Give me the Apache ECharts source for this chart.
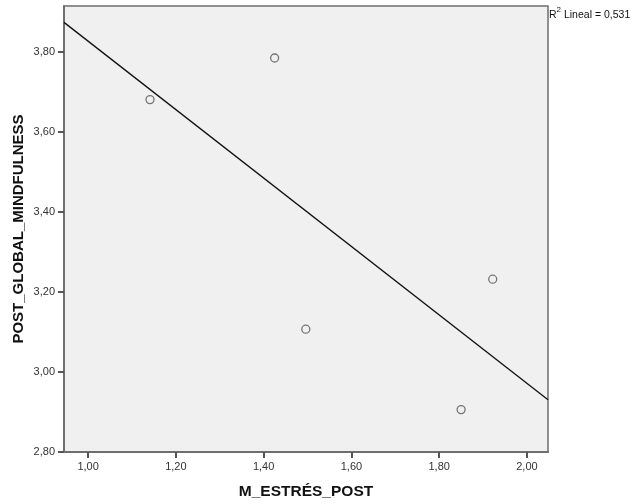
<!DOCTYPE html>
<html>
<head>
<meta charset="utf-8">
<script src="https://cdn.jsdelivr.net/npm/echarts@6/dist/echarts.min.js"></script>
<style>html,body{margin:0;padding:0;background:#fff}#c{width:632px;height:504px}</style>
</head>
<body>
<div id="c"></div>
<script>
var xValues = [1.141, 1.425, 1.496, 1.850, 1.922];
var yValues = [3.681, 3.785, 3.107, 2.906, 3.232];
var xTicks = [1.0, 1.2, 1.4, 1.6, 1.8, 2.0];
var yTicks = [2.8, 3.0, 3.2, 3.4, 3.6, 3.8];
var xMin = 0.945, xMax = 2.048, yMin = 2.8, yMax = 3.915;
var xName = 'M_ESTRÉS_POST';
var yName = 'POST_GLOBAL_MINDFULNESS';
var r2Label = '0,531';

var n = xValues.length, mx = 0, my = 0;
for (var i = 0; i < n; i++) { mx += xValues[i]; my += yValues[i]; }
mx /= n; my /= n;
var sxy = 0, sxx = 0;
for (var i = 0; i < n; i++) { sxy += (xValues[i]-mx)*(yValues[i]-my); sxx += (xValues[i]-mx)*(xValues[i]-mx); }
var slope = sxy / sxx, icpt = my - slope * mx;
var fitLine = [[xMin, icpt + slope*xMin], [xMax, icpt + slope*xMax]];
var pts = xValues.map(function(x, i){ return [x, yValues[i]]; });

function fmt(v){ return v.toFixed(2).replace('.', ','); }
var font = 'Liberation Sans, Arial, sans-serif';
var chart = echarts.init(document.getElementById('c'), null, {renderer:'canvas'});
chart.setOption({
  animation: false,
  grid: {left: 64, right: 84, top: 6, bottom: 52, show: true, backgroundColor: '#f0f0f0', borderColor: '#6e6e6e', borderWidth: 1.5, outerBoundsMode: 'none', containLabel: false},
  xAxis: {
    type: 'value', min: xMin, max: xMax,
    name: xName, nameLocation: 'middle', nameGap: 32, nameMoveOverlap: false,
    nameTextStyle: {fontFamily: font, fontSize: 15.5, fontWeight: 'bold', color: '#111'},
    axisLine: {show: true, lineStyle: {color: '#6e6e6e', width: 2}},
    axisTick: {show: true, length: 6, lineStyle: {color: '#555', width: 2}, customValues: xTicks},
    axisLabel: {fontFamily: font, fontSize: 11, color: '#333', margin: 9, formatter: fmt, customValues: xTicks},
    splitLine: {show: false}
  },
  yAxis: {
    type: 'value', min: yMin, max: yMax,
    name: yName, nameLocation: 'middle', nameGap: 38, nameRotate: 90, nameMoveOverlap: false,
    nameTextStyle: {fontFamily: font, fontSize: 15, fontWeight: 'bold', color: '#111'},
    axisLine: {show: true, lineStyle: {color: '#6e6e6e', width: 2}},
    axisTick: {show: true, length: 6, lineStyle: {color: '#555', width: 2}, customValues: yTicks},
    axisLabel: {fontFamily: font, fontSize: 11, color: '#333', margin: 9, formatter: fmt, customValues: yTicks},
    splitLine: {show: false}
  },
  series: [
    {type: 'line', data: fitLine, symbol: 'none', lineStyle: {color: '#111', width: 1.3}, silent: true, z: 2},
    {type: 'scatter', data: pts, symbol: 'circle', symbolSize: 8,
     itemStyle: {color: 'rgba(0,0,0,0)', borderColor: '#555', borderWidth: 1.3}, z: 3}
  ],
  graphic: [{
    type: 'text', left: 549, top: 6,
    style: {
      text: '{s|R}{sup|2}{s| Lineal = ' + r2Label + '}',
      rich: {
        s: {fontFamily: font, fontSize: 10.5, fill: '#111', verticalAlign: 'bottom', lineHeight: 15},
        sup: {fontFamily: font, fontSize: 8, fill: '#111', verticalAlign: 'top', lineHeight: 15}
      }
    }
  }]
});
</script>
</body>
</html>
